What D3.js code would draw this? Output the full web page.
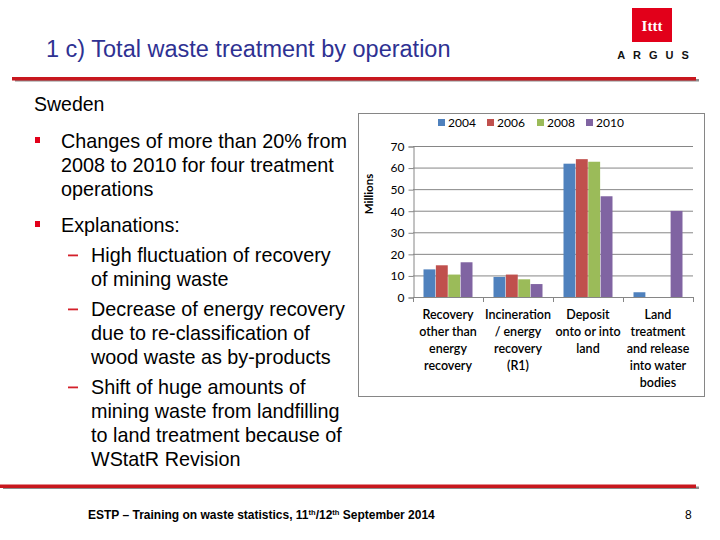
<!DOCTYPE html>
<html>
<head>
<meta charset="utf-8">
<script src="https://cdn.jsdelivr.net/npm/d3@7"></script>
<style>
  body { margin: 0; background: #fff; }
  svg text { font-family: "Liberation Sans", Arial, sans-serif; }
  .chart text { font-family: Lato, "Open Sans", sans-serif; }
</style>
</head>
<body>
<div id="slide"></div>
<script>
// chart data (millions of tonnes)
const categories = [
  ['Recovery', 'other than', 'energy', 'recovery'],
  ['Incineration', '/ energy', 'recovery', '(R1)'],
  ['Deposit', 'onto or into', 'land'],
  ['Land', 'treatment', 'and release', 'into water', 'bodies']
];
const years = ['2004', '2006', '2008', '2010'];
const values_2004 = [12.8, 9.3, 61.8, 2.2];
const values_2006 = [14.7, 10.4, 63.9, 0];
const values_2008 = [10.4, 8.2, 62.7, 0];
const values_2010 = [16.1, 6.0, 46.7, 39.9];
const y_ticks = [0, 10, 20, 30, 40, 50, 60, 70];
const colors = ['#4F81BD', '#C0504D', '#9BBB59', '#8064A2'];

const bullets = [
  { level: 0, lines: ['Changes of more than 20% from', '2008 to 2010 for four treatment', 'operations'] },
  { level: 0, lines: ['Explanations:'] },
  { level: 1, lines: ['High fluctuation of recovery', 'of mining waste'] },
  { level: 1, lines: ['Decrease of energy recovery', 'due to re-classification of', 'wood waste as by-products'] },
  { level: 1, lines: ['Shift of huge amounts of', 'mining waste from landfilling', 'to land treatment because of', 'WStatR Revision'] }
];

const series = [values_2004, values_2006, values_2008, values_2010];

const svg = d3.select('#slide')
  .append('svg')
  .attr('width', 720)
  .attr('height', 540);

// slide header
svg.append('text')
  .attr('x', 46).attr('y', 57)
  .attr('fill', '#2E3192')
  .style('font-size', '23.5px')
  .text('1 c) Total waste treatment by operation');

// double rule (grey shadow + red) top and bottom
function rule(y, x1, x2) {
  svg.append('rect').attr('x', x1 + 3).attr('y', y + 2).attr('width', x2 - x1).attr('height', 2.5).attr('fill', '#8c8c8c');
  svg.append('rect').attr('x', x1).attr('y', y).attr('width', x2 - x1).attr('height', 3.5).attr('fill', '#C8171E');
}
rule(77, 12, 696);
rule(484.5, 0, 696);

// logo
const logo = svg.append('g');
logo.append('rect').attr('x', 632).attr('y', 8).attr('width', 40).attr('height', 34).attr('fill', '#E2001A');
logo.append('text')
  .attr('x', 652).attr('y', 31)
  .attr('text-anchor', 'middle')
  .attr('fill', '#fff')
  .style('font-size', '15px').style('font-weight', 'bold')
  .style('font-family', '"Liberation Serif", serif')
  .text('Ittt');
logo.append('text')
  .attr('x', 657).attr('y', 59)
  .attr('text-anchor', 'middle')
  .attr('fill', '#111')
  .style('font-size', '11px').style('font-weight', 'bold')
  .style('letter-spacing', '8px')
  .text('ARGUS');

svg.append('text')
  .attr('x', 34).attr('y', 111)
  .style('font-size', '19.5px')
  .text('Sweden');

// bullet text
let y_line = 148;
bullets.forEach((b, i) => {
  if (i > 0) y_line += b.level === 0 ? 12 : 6;
  const x_text = b.level === 0 ? 61 : 91;
  if (b.level === 0) {
    svg.append('rect').attr('x', 35).attr('y', y_line - 11).attr('width', 5).attr('height', 6).attr('fill', '#E2001A');
  } else {
    svg.append('rect').attr('x', 68).attr('y', y_line - 7.5).attr('width', 10).attr('height', 1.8).attr('fill', '#D4202A');
  }
  b.lines.forEach(line => {
    svg.append('text')
      .attr('x', x_text).attr('y', y_line)
      .style('font-size', '19.8px')
      .text(line);
    y_line += 24;
  });
});

// footer
const foot = svg.append('text')
  .attr('x', 88).attr('y', 519)
  .style('font-size', '12px').style('font-weight', 'bold')
  .style('font-family', '"Liberation Sans Narrow", "Liberation Sans", sans-serif');
foot.append('tspan').text('ESTP \u2013 Training on waste statistics, 11');
foot.append('tspan').attr('dy', -4).style('font-size', '7.5px').text('th');
foot.append('tspan').attr('dy', 4).text('/12');
foot.append('tspan').attr('dy', -4).style('font-size', '7.5px').text('th');
foot.append('tspan').attr('dy', 4).text(' September 2014');

svg.append('text')
  .attr('x', 685).attr('y', 519)
  .style('font-size', '12px')
  .style('font-family', '"Liberation Sans Narrow", "Liberation Sans", sans-serif')
  .text('8');

// chart
const chart = svg.append('g').attr('class', 'chart');
chart.append('rect')
  .attr('x', 358.5).attr('y', 113.5)
  .attr('width', 346).attr('height', 283)
  .attr('fill', '#fff')
  .attr('stroke', '#868686');

const plot = { left: 413, right: 693, top: 146, bottom: 297 };

const x0 = d3.scaleBand()
  .domain(d3.range(categories.length))
  .range([plot.left, plot.right])
  .paddingInner(0.3)
  .paddingOuter(0.15);
const x1 = d3.scaleBand()
  .domain(years)
  .range([0, x0.bandwidth()])
  .paddingInner(0.04);
const y = d3.scaleLinear()
  .domain([0, 70])
  .range([plot.bottom, plot.top]);

// gridlines
chart.append('g')
  .selectAll('line')
  .data(y_ticks.slice(1))
  .join('line')
  .attr('x1', plot.left).attr('x2', plot.right)
  .attr('y1', d => y(d) + 0.5).attr('y2', d => y(d) + 0.5)
  .attr('stroke', '#868686');

// y axis
const y_axis = chart.append('g')
  .attr('transform', `translate(${plot.left + 0.5}, 0.5)`)
  .call(d3.axisLeft(y).tickValues(y_ticks).tickSize(5).tickPadding(4));
y_axis.select('.domain').attr('stroke', '#868686');
y_axis.selectAll('.tick line').attr('stroke', '#868686');
y_axis.selectAll('.tick text')
  .attr('fill', '#000')
  .style('font-size', '12px')
  .style('font-family', 'Lato, sans-serif');

chart.append('text')
  .attr('transform', `translate(373, 194) rotate(-90)`)
  .attr('text-anchor', 'middle')
  .style('font-size', '11.5px').style('font-weight', 'bold')
  .text('Millions');

// bars
chart.append('g')
  .selectAll('g')
  .data(categories.map((c, i) => i))
  .join('g')
  .attr('transform', i => `translate(${x0(i)}, 0)`)
  .selectAll('rect')
  .data(i => years.map((yr, s) => ({ yr, s, v: series[s][i] })))
  .join('rect')
  .attr('x', d => x1(d.yr))
  .attr('width', x1.bandwidth())
  .attr('y', d => y(d.v))
  .attr('height', d => y(0) - y(d.v))
  .attr('fill', d => colors[d.s]);

// x axis with boundary ticks
const x_axis = chart.append('g');
x_axis.append('line')
  .attr('x1', plot.left).attr('x2', plot.right)
  .attr('y1', plot.bottom + 0.5).attr('y2', plot.bottom + 0.5)
  .attr('stroke', '#868686');
x_axis.selectAll('line.tk')
  .data(d3.range(categories.length + 1))
  .join('line')
  .attr('class', 'tk')
  .attr('x1', i => plot.left + i * x0.step() + 0.5)
  .attr('x2', i => plot.left + i * x0.step() + 0.5)
  .attr('y1', plot.bottom).attr('y2', plot.bottom + 5)
  .attr('stroke', '#868686');

// category labels
chart.append('g')
  .selectAll('text')
  .data(categories)
  .join('text')
  .attr('text-anchor', 'middle')
  .style('font-size', '12.5px')
  .style('font-weight', '600')
  .each(function (lines, i) {
    d3.select(this).selectAll('tspan')
      .data(lines)
      .join('tspan')
      .attr('x', x0(i) + x0.bandwidth() / 2)
      .attr('y', (d, j) => 319 + j * 17)
      .text(d => d);
  });

// legend
const legend = chart.append('g');
const legend_x = [438, 487, 537, 586];
years.forEach((yr, s) => {
  legend.append('rect')
    .attr('x', legend_x[s]).attr('y', 119)
    .attr('width', 7).attr('height', 7)
    .attr('fill', colors[s]);
  legend.append('text')
    .attr('x', legend_x[s] + 10).attr('y', 127)
    .style('font-size', '12px')
    .text(yr);
});
</script>
</body>
</html>
